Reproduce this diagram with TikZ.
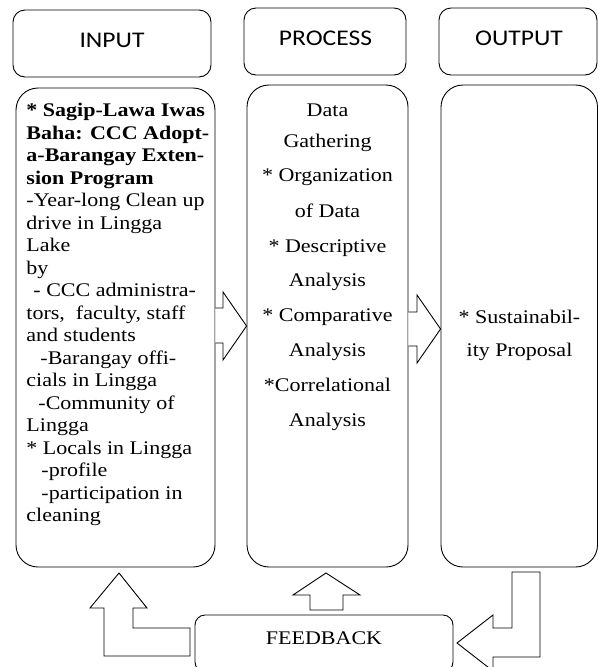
\documentclass[tikz,border=0pt]{standalone}
\usepackage{fontspec}
\setmainfont[FakeStretch=1.14]{Liberation Serif}
\newfontfamily\titlefont[FakeStretch=1.14]{Carlito}
\begin{document}
\begin{tikzpicture}[x=1pt,y=-1pt,line width=0.9pt,
  titlebox/.style={draw,rounded corners=12pt,minimum height=67pt,inner sep=0pt},
  bigbox/.style={draw,rounded corners=22pt,inner sep=0pt},
  titletext/.style={font=\titlefont\fontsize{22.4}{26}\selectfont,inner sep=0pt,anchor=base},
  body/.style={font=\fontsize{19.3}{22.5}\selectfont,inner sep=0pt},
  blockarrow/.style={draw,fill=white,line join=miter}]
\clip (0,0) rectangle (599,667);
% title boxes
\node[titlebox,minimum width=198pt] (tin) at (112,43.5) {};
\node[titlebox,minimum width=162pt] (tproc) at (325,41.5) {};
\node[titlebox,minimum width=158pt] (tout) at (518,41.5) {};
\node[titletext] (tinlbl) at (112,47) {INPUT};
\node[titletext] (tproclbl) at (325.5,45) {PROCESS};
\node[titletext] (toutlbl) at (519,45) {OUTPUT};
% big boxes
\node[bigbox,minimum width=199pt,minimum height=479pt] (bin) at (115.5,327.5) {};
\node[bigbox,minimum width=161pt,minimum height=482pt] (bproc) at (327.5,326) {};
\node[bigbox,minimum width=156.5pt,minimum height=482pt] (bout) at (519.25,326) {};
% feedback box
\node[draw,rounded corners=10pt,minimum width=258pt,minimum height=57pt,inner sep=0pt] (fb) at (324,643.5) {};
\node[body,anchor=base] (fblbl) at (324,644.3) {FEEDBACK};
% input text
\foreach \t [count=\i] in {
  {\bfseries * Sagip-Lawa Iwas},
  {\bfseries Baha: CCC Adopt-},
  {\bfseries a-Barangay Exten-},
  {\bfseries sion Program},
  {-Year-long Clean up},
  {drive in Lingga},
  {Lake},
  {by},
  {\hspace*{7pt}- CCC administra-},
  {tors,\hspace{11pt}faculty, staff},
  {and students},
  {\hspace*{14pt}-Barangay offi-},
  {cials in Lingga},
  {\hspace*{12pt}-Community of},
  {Lingga},
  {* Locals in Lingga},
  {\hspace*{15pt}-profile},
  {\hspace*{15pt}-participation in},
  {cleaning}}
  \node[body,anchor=base west] (in\i) at (26,{116.5+(\i-1)*22.5}) {\t};
% process text
\foreach \t/\yy [count=\i] in {
  {Data}/116,
  {Gathering}/147.5,
  {* Organization}/181.5,
  {of Data}/217.5,
  {* Descriptive}/252.5,
  {Analysis}/286.5,
  {* Comparative}/321.5,
  {Analysis}/356.5,
  {*Correlational}/391.5,
  {Analysis}/426.5}
  \node[body,anchor=base] (pr\i) at (327.5,\yy) {\t};
% output text
\node[body,anchor=base] (out1) at (519.5,323.5) {* Sustainabil-};
\node[body,anchor=base] (out2) at (519.5,356.5) {ity Proposal};
% block arrows between columns
\draw[blockarrow] (bin.east |- 0,308) -- (223,308) -- (223,292) -- (bproc.west |- 0,326)
  -- (223,360) -- (223,343) -- (bin.east |- 0,343);
\draw[blockarrow] (bproc.east |- 0,312) -- (417,312) -- (417,295) -- (bout.west |- 0,329)
  -- (417,363) -- (417,346) -- (bproc.east |- 0,346);
% feedback up arrow to process
\draw[blockarrow] (310,610) -- (310,595) -- (293,595) -- (326,573) -- (360,595) -- (343,595) -- (343,610) -- cycle;
% left L arrow to input
\draw[blockarrow] (190,628) -- (133,628) -- (133,608) -- (147,608) -- (119,573) -- (90,608)
  -- (104,608) -- (104,656) -- (190,656) -- cycle;
% right L arrow from output to feedback
\draw[blockarrow] (512,572) -- (540,572) -- (540,657) -- (493,657) -- (493,671) -- (457,643)
  -- (493,615) -- (493,628) -- (512,628) -- cycle;
\end{tikzpicture}
\end{document}
